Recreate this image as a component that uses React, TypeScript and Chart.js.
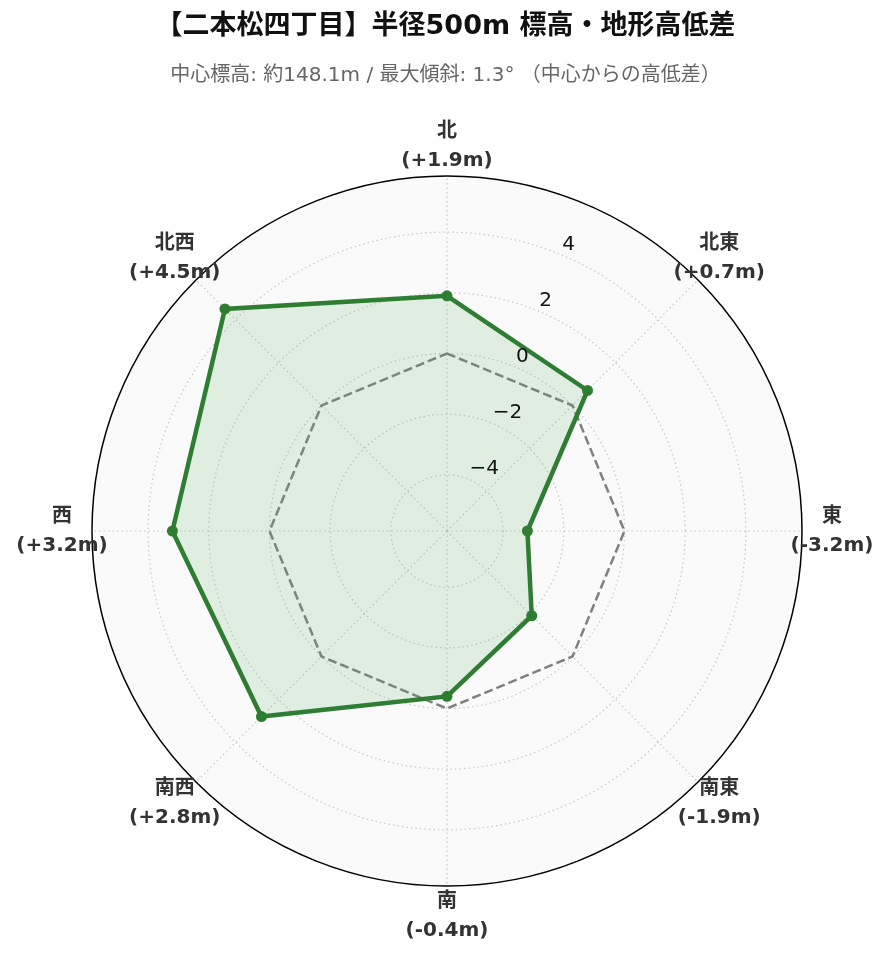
import React, { useEffect, useRef } from "react";
import { Chart, registerables } from "chart.js";

Chart.register(...registerables);

const directions = ["北", "北東", "東", "南東", "南", "南西", "西", "北西"];
const heightDiffs = [1.9, 0.7, -3.2, -1.9, -0.4, 2.8, 3.2, 4.5];
const referenceLine = [0, 0, 0, 0, 0, 0, 0, 0];
const radialTicks = [-4, -2, 0, 2, 4];
const rLimit = 5.85;

const titleText = "【二本松四丁目】半径500m 標高・地形高低差";
const subtitleText = "中心標高: 約148.1m / 最大傾斜: 1.3° （中心からの高低差）";

const fontFamily = "'DejaVu Sans', 'Noto Sans CJK JP', sans-serif";

const fmtDiff = (v: number) => `(${v > 0 ? "+" : ""}${v.toFixed(1)}m)`;
const fmtTick = (v: number) => (v < 0 ? "\u2212" + Math.abs(v) : String(v));

const decorPlugin = {
  id: "decor",
  beforeDraw(chart: any) {
    // light background inside the polar area
    const s = chart.scales.r;
    const ctx = chart.ctx;
    ctx.save();
    ctx.beginPath();
    ctx.arc(s.xCenter, s.yCenter, s.drawingArea, 0, Math.PI * 2);
    ctx.fillStyle = "#fafafa";
    ctx.fill();
    ctx.restore();
  },
  beforeDatasetsDraw(chart: any) {
    // outer frame
    const s = chart.scales.r;
    const ctx = chart.ctx;
    ctx.save();
    ctx.beginPath();
    ctx.arc(s.xCenter, s.yCenter, s.drawingArea, 0, Math.PI * 2);
    ctx.strokeStyle = "#000";
    ctx.lineWidth = 1.5;
    ctx.stroke();
    ctx.restore();
  },
  afterDatasetsDraw(chart: any) {
    const s = chart.scales.r;
    const ctx = chart.ctx;
    ctx.save();
    ctx.font = `20px ${fontFamily}`;
    ctx.fillStyle = "#111";
    ctx.textAlign = "left";
    ctx.textBaseline = "middle";
    radialTicks.forEach((t) => {
      const p = s.getPointPosition(0.5, s.getDistanceFromCenterForValue(t));
      ctx.fillText(fmtTick(t), p.x + 1, p.y - 10);
    });
    ctx.restore();
  },
  afterDraw(chart: any) {
    const s = chart.scales.r;
    const ctx = chart.ctx;
    ctx.save();
    ctx.textAlign = "center";
    ctx.textBaseline = "middle";
    ctx.fillStyle = "#333";
    ctx.font = `bold 20px ${fontFamily}`;
    directions.forEach((d, i) => {
      const p = s.getPointPosition(i, s.drawingArea + 30);
      ctx.fillText(d, p.x, p.y - 14.5);
      ctx.fillText(fmtDiff(heightDiffs[i]), p.x, p.y + 14.5);
    });
    ctx.fillStyle = "#111";
    ctx.font = `bold 27px ${fontFamily}`;
    ctx.fillText(titleText, chart.width / 2 + 1, 27);
    ctx.fillStyle = "#666";
    ctx.font = `20px ${fontFamily}`;
    ctx.fillText(subtitleText, chart.width / 2 + 1, 76);
    ctx.restore();
  },
};

const RadarChart: React.FC = () => {
  const chartRef = useRef<HTMLCanvasElement>(null);
  const chartInstance = useRef<Chart>();

  useEffect(() => {
    if (chartRef.current) {
      const ctx = chartRef.current.getContext("2d");
      if (ctx) {
        if (chartInstance.current) {
          chartInstance.current.destroy();
        }
        chartInstance.current = new Chart(ctx, {
          type: "radar",
          data: {
            labels: directions,
            datasets: [
              {
                label: "高低差",
                data: heightDiffs,
                borderColor: "#2e7d32",
                backgroundColor: "rgba(76, 175, 80, 0.15)",
                borderWidth: 4.5,
                pointRadius: 5.5,
                pointBorderWidth: 0,
                pointBackgroundColor: "#2e7d32",
                fill: "start",
              },
              {
                label: "基準",
                data: referenceLine,
                borderColor: "#808080",
                borderWidth: 2.5,
                borderDash: [9, 4],
                pointRadius: 0,
                fill: false,
              },
            ],
          },
          options: {
            responsive: true,
            maintainAspectRatio: false,
            animation: false,
            layout: {
              padding: { left: 92, right: 87, top: 176, bottom: 76 },
            },
            plugins: {
              legend: { display: false },
              title: { display: false },
              tooltip: { enabled: false },
            },
            scales: {
              r: {
                min: -rLimit,
                max: rLimit,
                ticks: { display: false, stepSize: 2 },
                pointLabels: { display: false },
                grid: {
                  circular: true,
                  color: (c: any) =>
                    radialTicks.includes(c.tick?.value) ? "#c8c8c8" : "rgba(0,0,0,0)",
                  lineWidth: 1.2,
                },
                border: { dash: [1.5, 3] },
                angleLines: {
                  color: "#c8c8c8",
                  lineWidth: 1.2,
                  borderDash: [1.5, 3],
                },
              },
            },
          },
          plugins: [decorPlugin],
        });
      }
    }
    return () => {
      if (chartInstance.current) {
        chartInstance.current.destroy();
        chartInstance.current = undefined;
      }
    };
  }, []);

  return (
    <div style={{ position: "absolute", left: 0, top: 0, width: "889px", height: "962px" }}>
      <canvas ref={chartRef} style={{ width: "100%", height: "100%" }} />
    </div>
  );
};

export default function App() {
  return <RadarChart />;
}
